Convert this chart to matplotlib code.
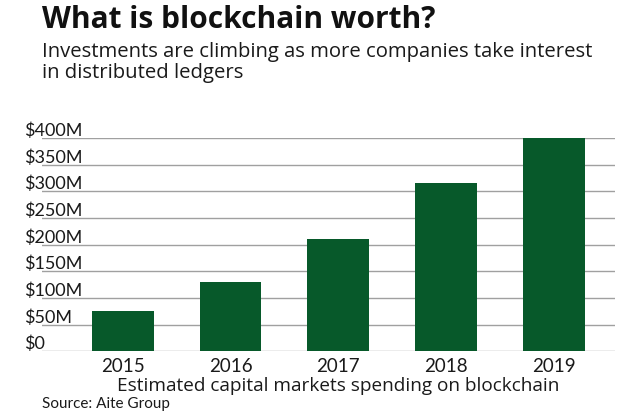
import matplotlib
matplotlib.use("Agg")
import matplotlib.pyplot as plt

years = ["2015", "2016", "2017", "2018", "2019"]
spending = [75, 130, 210, 315, 400]   # $M
yticks = [0, 50, 100, 150, 200, 250, 300, 350, 400]
ylabels = ["$0", "$50M", "$100M", "$150M", "$200M", "$250M", "$300M", "$350M", "$400M"]

plt.rcParams['font.family'] = ['Lato', 'DejaVu Sans']
head = ['Open Sans', 'DejaVu Sans']

fig = plt.figure(figsize=(6.4, 4.14), dpi=100)
ax = fig.add_axes([0.0656, 0.149, 0.8954, 0.515])

x = range(len(years))
ax.bar(x, spending, width=0.575, color="#07592a", zorder=3)

ax.set_xlim(-0.75, 4.57)
ax.set_ylim(0, 400)
ax.set_yticks(yticks)
ax.set_yticklabels(ylabels)
ax.set_xticks(list(x))
ax.set_xticklabels(years)
ax.grid(axis="y", color="#a0a0a0", linewidth=1.0, zorder=0)
ax.set_axisbelow(True)
for s in ax.spines.values():
    s.set_visible(False)

ax.tick_params(axis="y", length=0, pad=13, labelsize=13, labelcolor="#1a1a1a")
for lab in ax.get_yticklabels():
    lab.set_horizontalalignment("left")
    lab.set_verticalalignment("bottom")
ax.tick_params(axis="x", length=0, pad=4, labelsize=13.5, labelcolor="#1a1a1a")

ax.text(2, -0.115, "Estimated capital markets spending on blockchain",
        transform=ax.get_xaxis_transform(), ha="center", va="top",
        fontsize=13.7, color="#1a1a1a", family=head)

fig.text(0.066, 0.932, "What is blockchain worth?", fontsize=21.5, fontweight="bold",
         color="#111111", ha="left", va="baseline", family=head)
fig.text(0.066, 0.862, "Investments are climbing as more companies take interest",
         fontsize=14.6, color="#1a1a1a", ha="left", va="baseline", family=head)
fig.text(0.066, 0.811, "in distributed ledgers",
         fontsize=14.6, color="#1a1a1a", ha="left", va="baseline", family=head)
fig.text(0.066, 0.015, "Source: Aite Group", fontsize=11, color="#1a1a1a",
         ha="left", va="baseline")

fig.savefig("out.png", dpi=100)
